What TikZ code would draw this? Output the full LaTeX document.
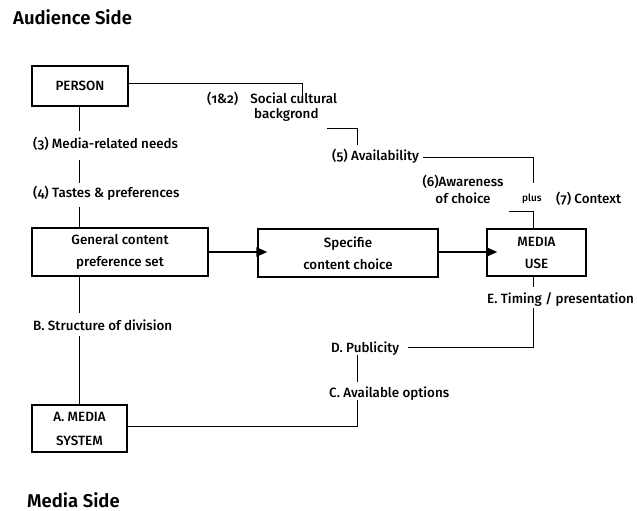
\documentclass[tikz,border=0pt]{standalone}
\usepackage{fontspec}
\setmainfont{Fira Sans}[Numbers=OldStyle, BoldFont={* Medium}]
\newfontfamily\headfont{Fira Sans SemiBold}
\usetikzlibrary{arrows.meta}
\begin{document}
\begin{tikzpicture}[x=1pt,y=-1pt,
  box/.style={draw, line width=1.2pt, inner sep=0pt, align=center,
    font=\bfseries\fontsize{13.4}{22}\selectfont},
  lbl/.style={inner sep=0pt, anchor=base west, font=\bfseries\fontsize{13.4}{15}\selectfont},
  title/.style={inner sep=0pt, anchor=base west, font=\headfont\fontsize{18.5}{20}\selectfont},
  wire/.style={line width=1pt},
  flow/.style={line width=2.4pt, -{Triangle[length=11pt,width=9pt]}}]
\useasboundingbox (0,0) rectangle (637,511);

% side headings
\node[title] (aud) at (13,25) {Audience Side};
\node[title] (med) at (27,507) {Media Side};

% boxes
\node[box, minimum width=96pt, minimum height=40pt] (person) at (80,86) {PERSON};
\node[box, minimum width=176pt, minimum height=48pt] (general) at (120,252) {General content\\preference set};
\node[box, minimum width=180pt, minimum height=48pt] (specific) at (348,253) {Specifie\\content choice};
\node[box, minimum width=99pt, minimum height=47pt] (use) at (536.5,252.5) {MEDIA\\USE};
\node[box, minimum width=95pt, minimum height=47pt, font=\bfseries\fontsize{13.4}{24}\selectfont] (system) at (79.5,428.5) {A. MEDIA\\SYSTEM};

% labels
\node[lbl] (needs) at (33,148) {(3) Media-related needs};
\node[lbl] (tastes) at (33,197) {(4) Tastes \& preferences};
\node[lbl, align=left] (social) at (207,118) {(1\&2)\hspace{12pt}Social cultural\\\hspace*{47pt}backgrond};
\node[lbl] (avail) at (332,160) {(5) Availability};
\node[lbl, anchor=base, align=center, font=\bfseries\fontsize{13.4}{17}\selectfont] (aware) at (463,203) {(6)Awareness\\of choice};
\node[lbl, font=\bfseries\fontsize{10}{10}\selectfont] (plus) at (522,201) {plus};
\node[lbl] (context) at (556,203) {(7) Context};
\node[lbl] (timing) at (487,303) {E. Timing / presentation};
\node[lbl] (publicity) at (331,352) {D. Publicity};
\node[lbl] (options) at (329,397) {C. Available options};
\node[lbl] (division) at (33,330) {B. Structure of division};

% bend points and free ends
\coordinate (socTop) at (302,100);
\coordinate (bkgEnd) at (327,128);
\coordinate (availTop) at (357,145);
\coordinate (plusTop) at (533,183);
\coordinate (awareEnd) at (509,211);
\coordinate (timingTop) at (533,287);
\coordinate (timingBot) at (533,308);
\coordinate (pubEnd) at (408,347);
\coordinate (pubBot) at (357,355);
\coordinate (optTop) at (357,382);
\coordinate (optBot) at (357,400);

% audience-side chain
\draw[wire] (person.south -| 79,0) -- (79,131);
\draw[wire] (79,160) -- (79,183);
\draw[wire] (79,207) -- (general.north -| 79,0);
\draw[wire] ([yshift=3pt]person.east) -| (socTop);
\draw[wire] (bkgEnd) -| (availTop);
\draw[wire] (423,157) -| (plusTop);
\draw[wire] (awareEnd) -| (use.north -| 533,0);

% media-side chain
\draw[wire] (general.south -| 79,0) -- (79,313);
\draw[wire] (79,336) -- (system.north -| 79,0);
\draw[wire] ([yshift=2.5pt]system.east) -| (optBot);
\draw[wire] (optTop) -- (pubBot);
\draw[wire] (pubEnd) -| (timingBot);
\draw[wire] (timingTop) -- (use.south -| 533,0);

% main flow
\draw[flow] (general.east |- 0,252) -- ([xshift=10pt]specific.west |- 0,252);
\draw[flow] (specific.east |- 0,252) -- ([xshift=11pt]use.west |- 0,252);
\end{tikzpicture}
\end{document}
